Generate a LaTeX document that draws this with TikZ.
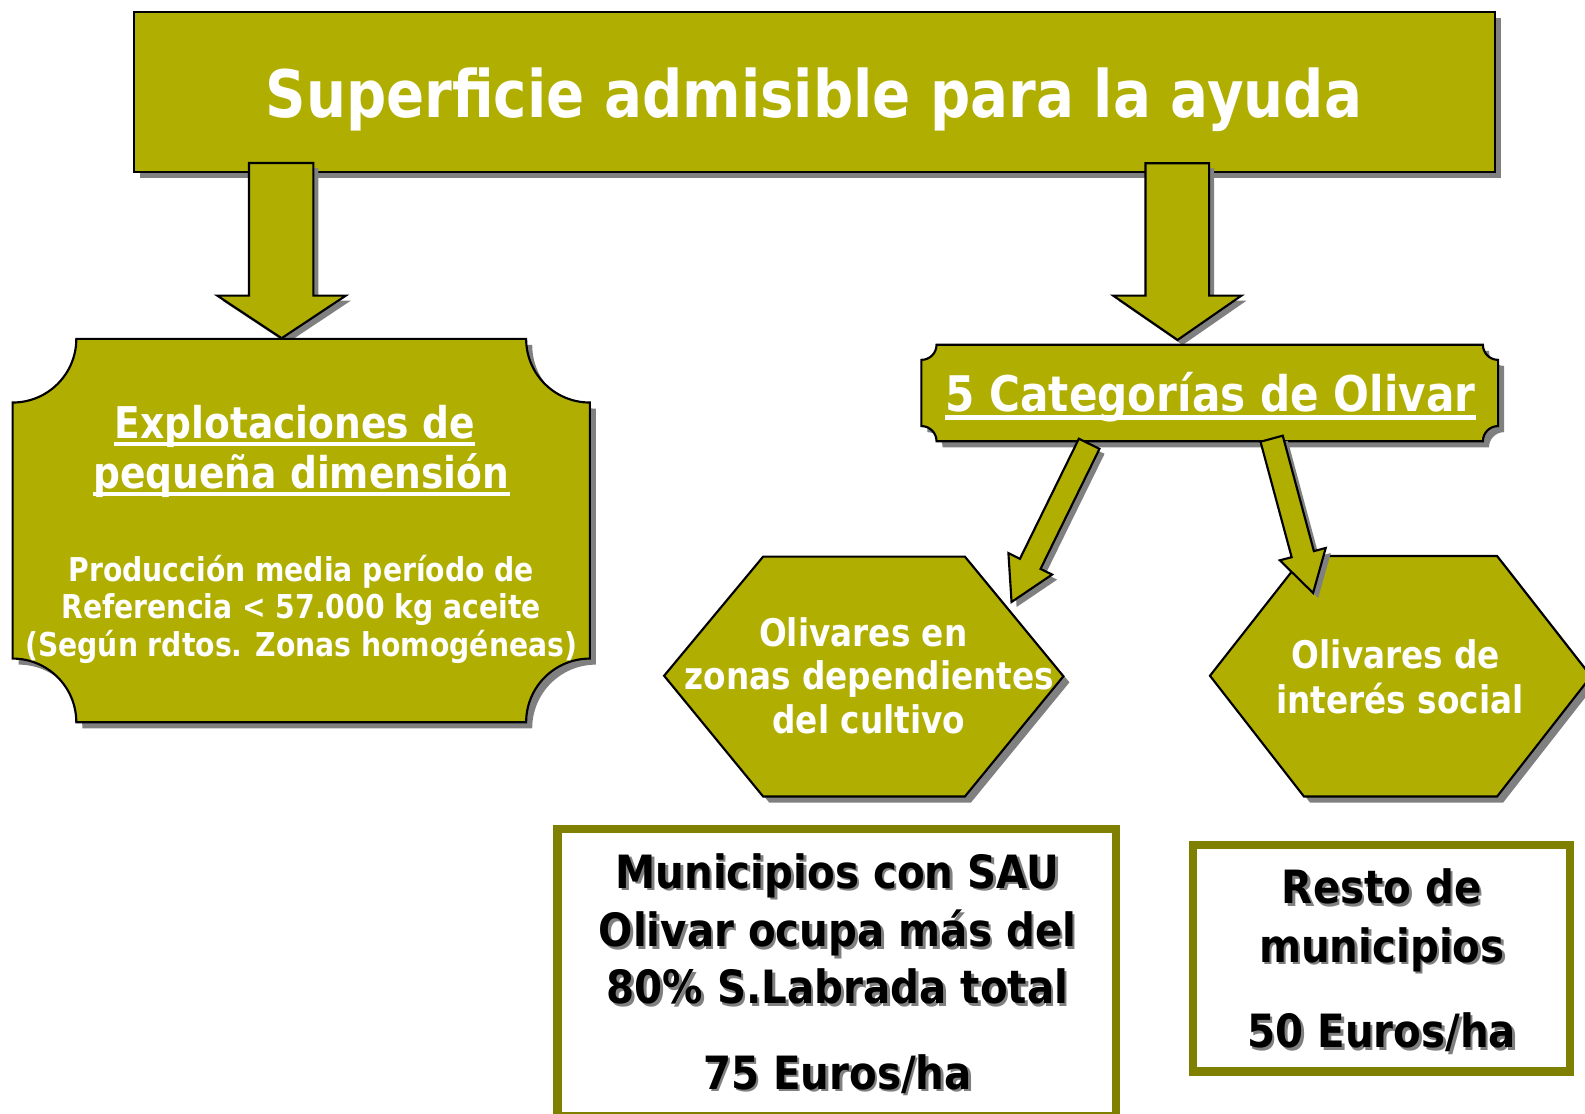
\documentclass[tikz,border=0pt]{standalone}
\usepackage{fontspec}
\usetikzlibrary{shadows}
\newfontfamily\tahfont{DejaVu Sans}[FakeStretch=0.86]
\newfontfamily\comicfont{DejaVu Sans}[FakeStretch=0.88]
\definecolor{oliveA}{HTML}{B0AE00}
\definecolor{boxOlive}{HTML}{808000}
\definecolor{shadowGray}{HTML}{808080}
\newcommand{\ctextsh}[3]{%
  \node[ctxt,text=shadowGray,xshift=0.025cm,yshift=-0.025cm] (#1s) at (#2) {#3};
  \node[ctxt] (#1) at (#2) {#3};}
\newcommand{\ulnode}[2]{%
  \draw[white,line width=1.15pt] ([yshift=-#2]#1.base west) -- ([yshift=-#2]#1.base east);}
\begin{document}
\begin{tikzpicture}[x=0.01cm,y=-0.01cm,
  shad/.style={drop shadow={shadow xshift=0.06cm,shadow yshift=-0.06cm,fill=shadowGray,opacity=1}},
  ashad/.style={drop shadow={shadow xshift=0.05cm,shadow yshift=-0.05cm,fill=shadowGray,opacity=1}},
  oshape/.style={fill=oliveA,draw=black,line width=0.6pt,line join=miter},
  bbox/.style={draw=boxOlive,line width=0.08cm,fill=white},
  wtxt/.style={inner sep=0pt,anchor=base,text=white},
  fT/.style={font=\tahfont\bfseries\fontsize{18.4}{22}\selectfont},
  fH/.style={font=\tahfont\bfseries\fontsize{12.3}{14}\selectfont},
  fB/.style={font=\tahfont\bfseries\fontsize{9.24}{11}\selectfont},
  fC/.style={font=\tahfont\bfseries\fontsize{13.8}{16}\selectfont},
  fX/.style={font=\tahfont\bfseries\fontsize{10.7}{12.5}\selectfont},
  ctxt/.style={inner sep=0pt,anchor=base,text=black,font=\comicfont\bfseries\fontsize{12.9}{15}\selectfont}
]
\fill[white] (0,0) rectangle (1568,1102);
\useasboundingbox (0,0) rectangle (1568,1102);
\clip (0,0) rectangle (1568,1102);

% title box
\filldraw[oshape,shad] (132.5,12) rectangle (1479,170);
\node[wtxt,fT] (title) at (805,116) {Superficie admisible para la ayuda};

% vertical block arrows
\filldraw[oshape,ashad] (246.3,161.2) -- (310,161.2) -- (310,292.5) -- (342,292.5) -- (278.6,334.6) -- (215,292.5) -- (246.3,292.5) -- cycle;
\filldraw[oshape,ashad] (1133.2,161.5) -- (1196.2,161.5) -- (1196.2,292.4) -- (1228.2,292.4) -- (1164.9,336.3) -- (1101.2,292.4) -- (1133.2,292.4) -- cycle;

% left plaque
\filldraw[oshape,shad] (75.5,335.2) -- (520.5,335.2) arc[start angle=180,end angle=90,radius=63]
  -- (583.5,651.5) arc[start angle=270,end angle=180,radius=63]
  -- (75.5,714.5) arc[start angle=0,end angle=-90,radius=63]
  -- (12.5,398.2) arc[start angle=90,end angle=0,radius=63] -- cycle;

% categorias plaque
\filldraw[oshape,shad] (926.5,341) -- (1467,341) arc[start angle=180,end angle=90,radius=15]
  -- (1482,421.5) arc[start angle=270,end angle=180,radius=15]
  -- (926.5,436.5) arc[start angle=0,end angle=-90,radius=15]
  -- (911.5,356) arc[start angle=90,end angle=0,radius=15] -- cycle;

% hexagons
\filldraw[oshape,shad] (755,550.6) -- (954.5,550.6) -- (1052,669) -- (954.5,788) -- (755,788) -- (657,668.5) -- cycle;
\filldraw[oshape,shad] (1290,550) -- (1481,550) -- (1574,669) -- (1481,788) -- (1290,788) -- (1197,668.5) -- cycle;

% diagonal block arrows
\filldraw[oshape,ashad] (1067.3,434) -- (1087.7,444) -- (1029.4,562.8) -- (1040.8,568.4) -- (1000.7,595.5) -- (997.6,547.2) -- (1009,552.8) -- cycle;
\filldraw[oshape,ashad] (1247,437) -- (1269,431) -- (1299.8,545.2) -- (1311.5,542.1) -- (1299,586.6) -- (1266.1,554.3) -- (1277.8,551.2) -- cycle;

% bottom boxes
\filldraw[bbox] (551.5,820) rectangle (1104,1104);
\filldraw[bbox] (1180,836) rectangle (1553,1060);

% texts
\node[wtxt,fH] (e1) at (291.5,434) {Explotaciones de};
\ulnode{e1}{1.5pt}
\node[wtxt,fH] (e2) at (298,483) {pequeña dimensión};
\ulnode{e2}{1.5pt}
\node[wtxt,fB] (p1) at (298,575.3) {Producción media período de};
\node[wtxt,fB] (p2) at (298,612.3) {Referencia < 57.000 kg aceite};
\node[wtxt,fB] (p3) at (298,649.5) {(Según rdtos. Zonas homogéneas)};

\node[wtxt,fC] (cat) at (1197.5,407) {5 Categorías de Olivar};
\ulnode{cat}{1.7pt}

\node[wtxt,fX] (h1a) at (854,639.6) {Olivares en};
\node[wtxt,fX] (h1b) at (860,681.8) {zonas dependientes};
\node[wtxt,fX] (h1c) at (859.6,726) {del cultivo};
\node[wtxt,fX] (h2a) at (1381,661.6) {Olivares de};
\node[wtxt,fX] (h2b) at (1385,705.6) {interés social};

\ctextsh{m1}{828.5,878.7}{Municipios con SAU}
\ctextsh{m2}{828.5,936.4}{Olivar ocupa más del}
\ctextsh{m3}{828.5,993}{80\% S.Labrada total}
\ctextsh{m4}{828.5,1077.5}{75 Euros/ha}
\ctextsh{r1}{1367,894}{Resto de}
\ctextsh{r2}{1367,952}{municipios}
\ctextsh{r3}{1367,1036.5}{50 Euros/ha}
\end{tikzpicture}
\end{document}
